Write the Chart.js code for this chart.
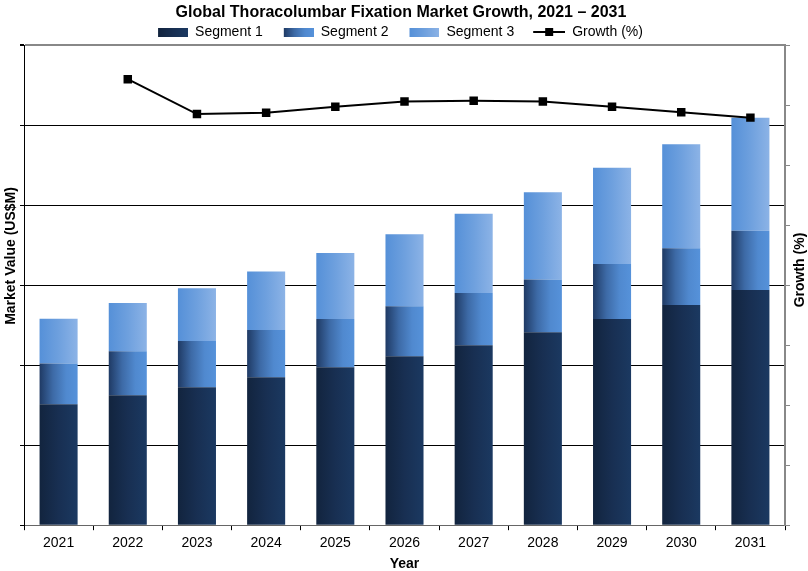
<!DOCTYPE html>
<html><head><meta charset="utf-8">
<script src="https://cdn.jsdelivr.net/npm/chart.js@4.4.0/dist/chart.umd.min.js"></script>
<style>html,body{margin:0;padding:0;background:#fff;}#wrap{width:808px;height:571px;}</style>
</head><body><div id="wrap"><canvas id="c" width="808" height="571"></canvas></div>
<script>
const years = ['2021','2022','2023','2024','2025','2026','2027','2028','2029','2030','2031'];
const segment1 = [151, 162.5, 172.5, 185, 197.5, 211, 225, 241, 257.5, 275, 294];
const segment2 = [51, 55, 57.5, 59, 60, 62.5, 65, 66, 69, 71, 74];
const segment3 = [56, 60, 66, 73, 82.5, 90, 99, 109, 120, 130, 141];
const growth = [null, 7.43, 6.85, 6.87, 6.97, 7.06, 7.07, 7.06, 6.97, 6.88, 6.79];
const leftTicks = [0, 100, 200, 300, 400, 500, 600];
const rightTicks = [0, 1, 2, 3, 4, 5, 6, 7, 8];

const FONT = "'Liberation Sans', Arial, sans-serif";
const seg1Stops = [[0,'#12243e'],[0.5,'#182f52'],[1,'#1b3961']];
const seg2Stops = [[0,'#1f3a64'],[0.35,'#3d6aa6'],[0.7,'#5089cf'],[1,'#5692da']];
const seg3Stops = [[0,'#5590d8'],[0.5,'#6ea0de'],[1,'#8cb3e6']];

function barGradient(stops){
  return function(ctx){
    const chart = ctx.chart; const x = chart.scales && chart.scales.x;
    if(!x || ctx.dataIndex === undefined || !isFinite(x.left)) return stops[stops.length-1][1];
    const px = x.getPixelForValue(ctx.dataIndex);
    const w = (x.width / years.length) * 0.55;
    const g = chart.ctx.createLinearGradient(px - w/2, 0, px + w/2, 0);
    stops.forEach(s => g.addColorStop(s[0], s[1]));
    return g;
  };
}
const ICON_W = 51;
function boxIcon(stops){
  const c = document.createElement('canvas'); c.width = ICON_W; c.height = 9;
  const k = c.getContext('2d'); const g = k.createLinearGradient(ICON_W-30,0,ICON_W,0);
  stops.forEach(s => g.addColorStop(s[0], s[1])); k.fillStyle = g; k.fillRect(ICON_W-30,0,30,9);
  return c;
}
function lineIcon(){
  const c = document.createElement('canvas'); c.width = ICON_W; c.height = 10;
  const k = c.getContext('2d'); k.fillStyle = '#000'; k.fillRect(ICON_W-32,4,32,2); k.fillRect(ICON_W-20,1,8,8);
  return c;
}
const icons = [boxIcon(seg1Stops), boxIcon(seg2Stops), boxIcon(seg3Stops), lineIcon()];

const sideTitles = {
  id: 'sideTitles',
  afterLayout(chart){
    if (chart.legend) { chart.legend.left -= 15; chart.legend.right -= 15; chart.legend.top += 4; chart.legend.bottom += 4; }
    if (chart.titleBlock) { chart.titleBlock.left -= 4; chart.titleBlock.right -= 4; }
  },
  afterDraw(chart){
    const c = chart.ctx; c.save();
    c.fillStyle = '#000'; c.font = "bold 14px " + FONT; c.textAlign = 'center'; c.textBaseline = 'middle';
    c.translate(11, 256); c.rotate(-Math.PI/2); c.fillText('Market Value (US$M)', 0, 0);
    c.restore(); c.save();
    c.fillStyle = '#000'; c.font = "bold 14px " + FONT; c.textAlign = 'center'; c.textBaseline = 'middle';
    c.translate(800, 270); c.rotate(-Math.PI/2); c.fillText('Growth (%)', 0, 0);
    c.restore();
  }
};

new Chart(document.getElementById('c'), {
  data: {
    labels: years,
    datasets: [
      {type:'bar', label:'Segment 1', data: segment1, backgroundColor: barGradient(seg1Stops), yAxisID:'y', order:1, barPercentage:0.55, categoryPercentage:1},
      {type:'bar', label:'Segment 2', data: segment2, backgroundColor: barGradient(seg2Stops), yAxisID:'y', order:1, barPercentage:0.55, categoryPercentage:1},
      {type:'bar', label:'Segment 3', data: segment3, backgroundColor: barGradient(seg3Stops), yAxisID:'y', order:1, barPercentage:0.55, categoryPercentage:1},
      {type:'line', label:'Growth (%)', data: growth, yAxisID:'y2', order:0, borderColor:'#000', backgroundColor:'#000', borderWidth:2, pointStyle:'rect', pointRadius:6, pointBackgroundColor:'#000', pointBorderColor:'#000', pointBorderWidth:0, tension:0, spanGaps:false}
    ]
  },
  options: {
    responsive:false, animation:false, devicePixelRatio:1,
    layout:{padding:{left:20, right:18, top:0, bottom:0}},
    plugins:{
      tooltip:{enabled:false},
      title:{display:true, text:'Global Thoracolumbar Fixation Market Growth, 2021 – 2031', color:'#000', font:{family:FONT, size:16, weight:'bold', lineHeight:1}, padding:{top:5, bottom:0}},
      legend:{display:true, labels:{usePointStyle:true, pointStyleWidth:ICON_W, color:'#000', font:{family:FONT, size:14, lineHeight:1}, padding:0,
        generateLabels(chart){
          return chart.data.datasets.map((ds,i)=>({text:ds.label, pointStyle:icons[i], fillStyle:'#000', strokeStyle:'#000', lineWidth:0, hidden:!chart.isDatasetVisible(i), datasetIndex:i, fontColor:'#000'}));
        }}}
    },
    scales:{
      x:{type:'category', stacked:true, offset:true,
        grid:{offset:true, drawOnChartArea:false, drawTicks:true, tickLength:5, tickColor:'#000'},
        border:{display:true, color:'#666', width:1},
        ticks:{color:'#000', font:{family:FONT, size:14}, padding:5},
        title:{display:true, text:'Year', color:'#000', font:{family:FONT, size:14, weight:'bold', lineHeight:1}, padding:{top:0, bottom:0}}},
      y:{type:'linear', position:'left', stacked:true, min:leftTicks[0], max:leftTicks[leftTicks.length-1],
        afterBuildTicks(s){ s.ticks = leftTicks.map(v=>({value:v})); },
        ticks:{display:false},
        grid:{drawOnChartArea:true, drawTicks:true, tickLength:4, tickColor:'#000',
          color:(ctx)=> ctx.tick && ctx.tick.value === leftTicks[leftTicks.length-1] ? '#888' : (ctx.tick && ctx.tick.value === 0 ? '#666' : '#000'),
          lineWidth:(ctx)=> ctx.tick && ctx.tick.value === leftTicks[leftTicks.length-1] ? 2 : 1},
        border:{display:true, color:'#000', width:1}},
      y2:{type:'linear', position:'right', min:rightTicks[0], max:rightTicks[rightTicks.length-1],
        afterBuildTicks(s){ s.ticks = rightTicks.map(v=>({value:v})); },
        ticks:{display:false},
        grid:{drawOnChartArea:false, drawTicks:true, tickLength:5, tickColor:'#888'},
        border:{display:true, color:'#888', width:2}}
    }
  },
  plugins:[sideTitles]
});
</script></body></html>
